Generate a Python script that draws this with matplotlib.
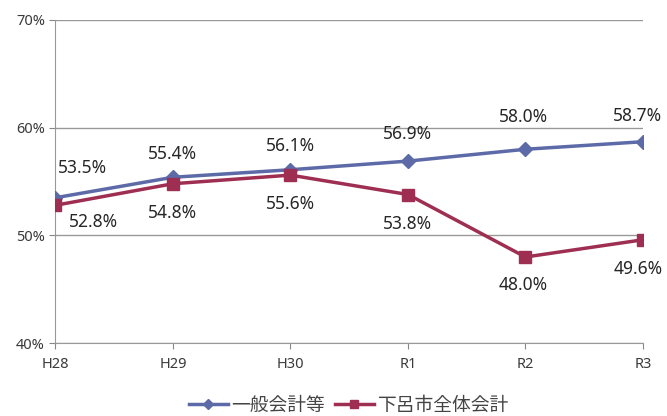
import matplotlib
matplotlib.use("Agg")
import matplotlib.pyplot as plt

plt.rcParams['font.family'] = ['Noto Sans', 'Noto Sans CJK JP', 'DejaVu Sans']

years = ["H28", "H29", "H30", "R1", "R2", "R3"]
general = [53.5, 55.4, 56.1, 56.9, 58.0, 58.7]
whole = [52.8, 54.8, 55.6, 53.8, 48.0, 49.6]
general_name = "一般会計等"
whole_name = "下呂市全体会計"

blue = "#5c6aa8"
red = "#9e2f52"

fig = plt.figure(figsize=(6.67, 4.16), dpi=100)
ax = fig.add_axes([0.083, 0.175, 0.881, 0.777])

x = list(range(len(years)))
ax.plot(x, general, color=blue, lw=2.5, marker="D", ms=7, label=general_name, zorder=3)
ax.plot(x, whole, color=red, lw=2.5, marker="s", ms=8, label=whole_name, zorder=3)

# label offsets in pixels (label centre relative to the point)
g_dx = [27, 0, 0, 0, -2, -5]
g_dy = [30, 23, 24, 27, 32, 26]
w_dx = [38, 0, 0, 0, -2, -5]
w_dy = [-17, -29, -29, -29, -28, -29]
for i in x:
    ax.annotate(f"{general[i]:.1f}%", (i, general[i]), xytext=(g_dx[i] * 0.72, g_dy[i] * 0.72),
                textcoords="offset points", ha="center", va="center", fontsize=12.5,
                color="#262626", annotation_clip=False)
    ax.annotate(f"{whole[i]:.1f}%", (i, whole[i]), xytext=(w_dx[i] * 0.72, w_dy[i] * 0.72),
                textcoords="offset points", ha="center", va="center", fontsize=12.5,
                color="#262626", annotation_clip=False)

ax.set_xlim(0, 5)
ax.set_ylim(40, 70)
ax.set_yticks([40, 50, 60, 70])
ax.set_yticklabels(["40%", "50%", "60%", "70%"])
ax.set_xticks(x)
ax.set_xticklabels(years)
ax.tick_params(labelsize=10.5, labelcolor="#3a3a3a", length=4, color="#888888")
ax.tick_params(axis="x", pad=6)
ax.grid(axis="y", color="#999999", lw=1)
for s in ["top", "right"]:
    ax.spines[s].set_visible(False)
for s in ["left", "bottom"]:
    ax.spines[s].set_color("#999999")

fig.legend(loc="center", bbox_to_anchor=(0.523, 0.024), ncol=2, frameon=False,
           fontsize=13.5, handlelength=2.1, columnspacing=0.5, handletextpad=0.2,
           markerscale=0.8, labelcolor="#444444")

fig.savefig("out.png", dpi=100, facecolor="white")
